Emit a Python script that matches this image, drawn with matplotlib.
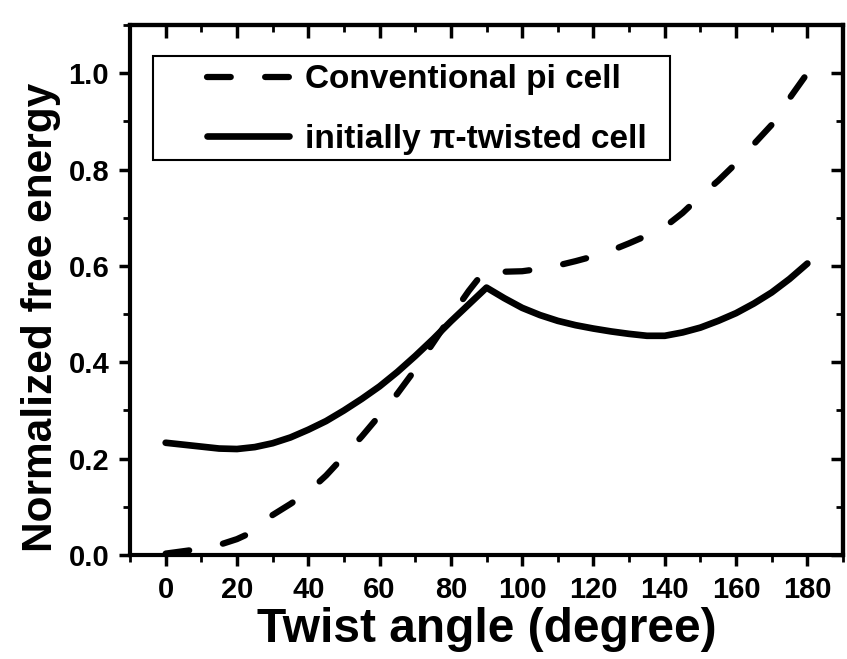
import matplotlib
matplotlib.use("Agg")
import matplotlib.pyplot as plt
from matplotlib.patches import Rectangle
from matplotlib.ticker import MultipleLocator

plt.rcParams['font.family'] = ['Liberation Sans', 'DejaVu Sans']
plt.rcParams['font.weight'] = 'bold'

# ---- data ----
conv_x = [0, 5, 10, 15, 20, 25, 30, 35, 40, 45, 50, 55, 60, 65, 70, 75, 80, 85, 90,
          95, 100, 105, 110, 115, 120, 125, 130, 135, 140, 145, 150, 155, 160,
          165, 170, 175, 180]
conv_y = [0.003, 0.008, 0.013, 0.021, 0.033, 0.05, 0.083, 0.106, 0.131, 0.165, 0.205,
          0.246, 0.29, 0.335, 0.385, 0.44, 0.495, 0.548, 0.595,
          0.588, 0.589, 0.594, 0.601, 0.61, 0.62, 0.632, 0.647, 0.663, 0.681,
          0.71, 0.745, 0.777, 0.813, 0.853, 0.893, 0.948, 1.0]

pi_x = [0, 5, 10, 15, 20, 25, 30, 35, 40, 45, 50, 55, 60, 65, 70, 75, 80, 85, 90,
        95, 100, 105, 110, 115, 120, 125, 130, 135, 140, 145, 150, 155, 160,
        165, 170, 175, 180]
pi_y = [0.233, 0.229, 0.225, 0.221, 0.22, 0.224, 0.232, 0.244, 0.26, 0.278, 0.3,
        0.324, 0.35, 0.38, 0.413, 0.448, 0.485, 0.52, 0.555,
        0.533, 0.513, 0.498, 0.486, 0.477, 0.47, 0.464, 0.459, 0.455, 0.455,
        0.462, 0.472, 0.486, 0.502, 0.522, 0.545, 0.573, 0.605]

labels = ["Conventional pi cell", "initially \u03c0-twisted cell"]
x_ticks = list(range(0, 181, 20))
y_ticks = [0.0, 0.2, 0.4, 0.6, 0.8, 1.0]

# ---- figure ----
fig = plt.figure(figsize=(8.47, 6.59), dpi=100)
ax = fig.add_axes([0.1535, 0.1578, 0.8418, 0.8042])

ax.plot(conv_x, conv_y, color='black', lw=4.5, linestyle=(0, (3.8, 5.5)),
        dash_capstyle='round', solid_capstyle='round', label=labels[0])
ax.plot(pi_x, pi_y, color='black', lw=4.8, solid_capstyle='round',
        solid_joinstyle='round', label=labels[1])

ax.set_xlim(-10, 190)
ax.set_ylim(0, 1.1)
ax.set_xticks(x_ticks)
ax.set_yticks(y_ticks)
ax.set_yticklabels([f"{v:.1f}" for v in y_ticks])
ax.xaxis.set_minor_locator(MultipleLocator(10))
ax.yaxis.set_minor_locator(MultipleLocator(0.1))

for sp in ax.spines.values():
    sp.set_linewidth(3)

ax.tick_params(which='major', direction='out', length=8, width=2.5,
               labelsize=21, pad=7, top=False, right=False)
ax.tick_params(which='minor', direction='out', length=5, width=2,
               top=False, right=False)
for lab in ax.get_xticklabels() + ax.get_yticklabels():
    lab.set_fontweight('bold')

# top and right inward ticks
secx = ax.secondary_xaxis('top')
secx.set_xticks(x_ticks)
secx.xaxis.set_minor_locator(MultipleLocator(10))
secx.tick_params(which='major', direction='in', length=9, width=2.5, labeltop=False)
secx.tick_params(which='minor', direction='in', length=5, width=2)
secx.spines['top'].set_linewidth(3)

secy = ax.secondary_yaxis('right')
secy.set_yticks(y_ticks)
secy.yaxis.set_minor_locator(MultipleLocator(0.1))
secy.tick_params(which='major', direction='in', length=9, width=2.5, labelright=False)
secy.tick_params(which='minor', direction='in', length=5, width=2)
secy.spines['right'].set_linewidth(3)

ax.set_xlabel("Twist angle (degree)", fontsize=34.5, fontweight='bold', labelpad=2)
ax.set_ylabel("Normalized free energy", fontsize=30.5, fontweight='bold')
ax.yaxis.set_label_coords(-0.097, 0.449)

# legend
leg = ax.legend(loc='upper left', bbox_to_anchor=(0.108, 0.926), frameon=False,
                fontsize=24, handlelength=2.45, handletextpad=0.5,
                labelspacing=0.85, borderpad=0, borderaxespad=0)
for t in leg.get_texts():
    t.set_fontweight('bold')
ax.add_patch(Rectangle((0.0323, 0.745), 0.7247, 0.1965, transform=ax.transAxes,
                       fill=False, lw=1.5, edgecolor='black', zorder=5))

fig.savefig("out.png", dpi=100)
